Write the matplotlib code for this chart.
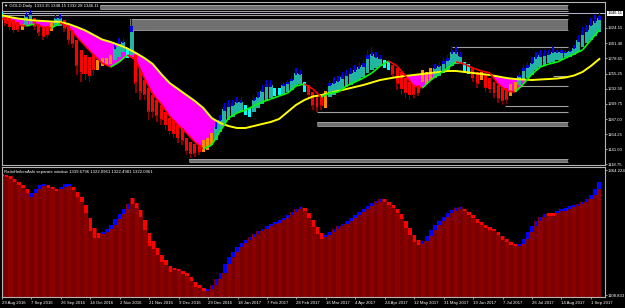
import numpy as np
import matplotlib
matplotlib.use("Agg")
import matplotlib.pyplot as plt
from matplotlib.collections import LineCollection

plt.rcParams["font.family"] = ["Liberation Sans", "DejaVu Sans"]

# candles, one entry for every two daily bars (price high / low of the pair)
cndl_hi = [
    1348, 1342, 1341, 1336, 1333, 1330, 1348, 1351, 1339, 1330,
    1326, 1327, 1332, 1344, 1345, 1336, 1329, 1321, 1306, 1291,
    1284, 1280, 1284, 1276, 1279, 1279, 1284, 1303, 1309, 1309,
    1294, 1338, 1284, 1261, 1246, 1234, 1223, 1216, 1208, 1198,
    1189, 1186, 1178, 1174, 1158, 1152, 1149, 1148, 1156, 1158,
    1166, 1183, 1193, 1211, 1216, 1216, 1220, 1220, 1208, 1204,
    1223, 1228, 1238, 1246, 1246, 1234, 1234, 1243, 1246, 1252,
    1264, 1261, 1243, 1238, 1228, 1223, 1223, 1230, 1246, 1250,
    1252, 1258, 1261, 1264, 1268, 1273, 1276, 1291, 1295, 1288,
    1283, 1276, 1273, 1268, 1264, 1258, 1249, 1243, 1238, 1238,
    1261, 1258, 1264, 1270, 1273, 1279, 1283, 1297, 1295, 1288,
    1273, 1270, 1264, 1258, 1258, 1253, 1249, 1243, 1238, 1234,
    1234, 1240, 1243, 1258, 1268, 1273, 1280, 1288, 1291, 1291,
    1291, 1295, 1294, 1294, 1291, 1294, 1298, 1313, 1325, 1329,
    1339, 1344, 1348]
cndl_lo = [
    1339, 1327, 1321, 1317, 1318, 1321, 1327, 1330, 1321, 1312,
    1306, 1309, 1320, 1327, 1327, 1318, 1298, 1294, 1253, 1243,
    1246, 1243, 1253, 1261, 1267, 1268, 1270, 1276, 1280, 1288,
    1279, 1284, 1226, 1215, 1216, 1186, 1189, 1183, 1178, 1171,
    1163, 1158, 1151, 1148, 1133, 1128, 1130, 1133, 1137, 1140,
    1148, 1155, 1168, 1181, 1186, 1190, 1196, 1198, 1193, 1190,
    1198, 1204, 1210, 1216, 1219, 1222, 1223, 1225, 1228, 1231,
    1237, 1240, 1228, 1219, 1200, 1198, 1201, 1204, 1220, 1223,
    1228, 1231, 1235, 1238, 1243, 1246, 1250, 1256, 1261, 1264,
    1267, 1264, 1261, 1249, 1231, 1223, 1219, 1216, 1219, 1222,
    1243, 1240, 1246, 1249, 1252, 1256, 1261, 1267, 1270, 1270,
    1258, 1255, 1243, 1234, 1246, 1228, 1226, 1219, 1211, 1208,
    1210, 1222, 1228, 1238, 1246, 1249, 1253, 1261, 1265, 1268,
    1271, 1273, 1276, 1276, 1279, 1280, 1283, 1288, 1295, 1302,
    1306, 1312, 1318]
# b = bull (teal/blue), c = cyan, r = bear (red), o = orange
cndl_kind = ("c" "rrrr" "o" "bb" "rrrr" "o" "bb" "rrrrrrrr" "oooo" "bbb" "c" "b"
             "rrrrrrrrrrrrrrrr" "ooo" "bbbbbbb" "cc" "bbbbb" "cc" "bbbbb" "c"
             "rrrr" "o" "bbbbbbbbbbbbb" "cc" "rrrrrrr" "ooo" "bbbbbbb" "cc" "rr"
             "o" "rrrrrr" "oo" "bbbbbbbbbbbbbbbbbbbb")

# moving averages, one entry for every four daily bars
ma_slow = [
    1343.7, 1340.7, 1338.4, 1336.9, 1335.4, 1334.7, 1333.9, 1333.2, 1330.2, 1325.6,
    1320.4, 1313.6, 1306.8, 1303.1, 1298.5, 1293.3, 1286.5, 1279.0, 1269.9, 1254.9,
    1241.3, 1232.3, 1223.2, 1214.2, 1203.7, 1188.6, 1181.1, 1176.5, 1173.5, 1173.5,
    1176.5, 1179.6, 1182.6, 1187.1, 1197.6, 1208.2, 1215.7, 1221.0, 1223.2, 1226.2,
    1229.3, 1232.3, 1235.3, 1238.3, 1242.1, 1245.8, 1248.1, 1250.3, 1251.9, 1253.4,
    1254.9, 1256.4, 1257.9, 1259.4, 1259.4, 1257.9, 1256.4, 1254.9, 1253.4, 1251.1,
    1248.8, 1247.3, 1246.6, 1245.8, 1246.6, 1247.3, 1248.1, 1249.6, 1252.6, 1257.9,
    1266.9, 1277.5]
ma_fast = [
    1339.2, 1334.7, 1328.7, 1327.2, 1330.2, 1325.6, 1324.1, 1331.7, 1325.6, 1310.6,
    1297.0, 1283.5, 1271.4, 1265.4, 1272.9, 1283.5, 1275.9, 1248.8, 1224.7, 1209.7,
    1191.6, 1178.0, 1166.0, 1152.4, 1141.9, 1147.9, 1169.0, 1188.6, 1196.1, 1200.6,
    1206.7, 1212.7, 1217.2, 1221.7, 1226.2, 1236.8, 1239.8, 1232.3, 1220.2, 1226.2,
    1227.7, 1236.8, 1242.8, 1248.8, 1256.4, 1266.9, 1274.4, 1266.9, 1251.9, 1236.8,
    1233.8, 1245.8, 1254.9, 1263.9, 1272.9, 1269.9, 1263.9, 1259.4, 1256.4, 1239.8,
    1229.3, 1227.7, 1239.8, 1254.9, 1265.4, 1269.9, 1272.9, 1279.0, 1285.0, 1291.0,
    1306.1, 1321.1]

# RatioHeikenAshi separate window, one entry for every two daily bars
rha_top = [
    1356.0, 1354.0, 1351.9, 1345.8, 1339.7, 1333.5, 1325.4, 1317.2, 1325.4, 1333.5,
    1335.6, 1333.5, 1329.5, 1325.4, 1329.5, 1335.6, 1335.6, 1329.5, 1319.2, 1309.0,
    1292.7, 1266.1, 1245.7, 1235.5, 1237.5, 1243.7, 1251.8, 1264.1, 1274.3, 1284.5,
    1294.7, 1307.0, 1296.8, 1282.5, 1262.0, 1235.5, 1219.1, 1204.8, 1190.5, 1180.3,
    1168.0, 1164.0, 1161.9, 1157.8, 1153.7, 1145.6, 1135.4, 1129.2, 1123.1, 1121.1,
    1129.2, 1141.5, 1153.7, 1172.1, 1186.4, 1196.7, 1206.9, 1215.1, 1221.2, 1227.3,
    1233.4, 1239.6, 1243.7, 1249.8, 1253.9, 1258.0, 1262.0, 1266.1, 1272.3, 1278.4,
    1284.5, 1288.6, 1286.5, 1276.3, 1262.0, 1247.7, 1235.5, 1231.4, 1237.5, 1243.7,
    1249.8, 1253.9, 1260.0, 1266.1, 1272.3, 1278.4, 1284.5, 1290.6, 1296.8, 1300.9,
    1304.9, 1304.9, 1298.8, 1292.7, 1284.5, 1274.3, 1260.0, 1245.7, 1231.4, 1221.2,
    1219.1, 1229.4, 1241.6, 1251.8, 1260.0, 1268.2, 1276.3, 1282.5, 1286.5, 1288.6,
    1284.5, 1278.4, 1272.3, 1264.1, 1258.0, 1251.8, 1247.7, 1243.7, 1237.5, 1229.4,
    1223.2, 1217.1, 1213.0, 1213.0, 1223.2, 1237.5, 1249.8, 1260.0, 1268.2, 1274.3,
    1276.3, 1276.3, 1280.4, 1284.5, 1286.5, 1290.6, 1292.7, 1294.7, 1298.8, 1304.9,
    1313.1, 1325.4, 1339.7]
rha_kind = ("r" * 7 + "b" * 4 + "r" * 3 + "b" * 3 + "r" * 7 + "b" * 7 + "r" * 18
            + "b" * 23 + "r" * 5 + "b" * 14 + "r" * 9 + "b" * 10 + "r" * 13
            + "b" * 7 + "r" * 2 + "b" * 11)

# support / resistance rectangles drawn on the chart (price top, bottom, from bar, to bar)
zone_top = [1358.8, 1349.9, 1343.9, 1337.7, 1295.8, 1252.2, 1237.1, 1206.3, 1197.9, 1182.6, 1126.8]
zone_bot = [1352.7, 1349.3, 1343.3, 1321.1, 1295.2, 1251.6, 1236.5, 1205.7, 1197.3, 1176.5, 1122.3]
zone_from = [47, 0, 0, 61, 214, 262, 239, 239, 150, 150, 89]
zone_to = [269, 269, 269, 269, 269, 269, 269, 269, 269, 269, 269]

bid = 1346.11
price_ticks = [1324.15, 1301.40, 1278.65, 1255.25, 1232.50, 1209.75,
               1187.00, 1164.25, 1141.50, 1118.75]
sub_ticks = [1364.224, 1108.833]
date_labels = ["29 Aug 2016", "7 Sep 2016", "26 Sep 2016", "14 Oct 2016", "2 Nov 2016",
               "21 Nov 2016", "9 Dec 2016", "29 Dec 2016", "18 Jan 2017", "7 Feb 2017",
               "28 Feb 2017", "16 Mar 2017", "4 Apr 2017", "24 Apr 2017", "12 May 2017",
               "31 May 2017", "19 Jun 2017", "7 Jul 2017", "26 Jul 2017", "14 Aug 2017",
               "1 Sep 2017"]
title = "\u25bc GOLD,Daily  1333.15 1348.15 1332.28 1346.11"
sub_title = "RatioHeikenAshi separate window 1339.6796 1322.0961 1322.4981 1322.0961"

FS = 3.1
EDGE = "#b4b4b4"

fig = plt.figure(figsize=(6.25, 3.08), dpi=100, facecolor="black")
ax = fig.add_axes([2 / 625, 143 / 308, 603 / 625, 163 / 308], facecolor="black")
sub = fig.add_axes([2 / 625, 11 / 308, 603 / 625, 130 / 308], facecolor="black")

xc = np.arange(len(cndl_hi)) * 2
xm = np.arange(len(ma_slow)) * 4
hi = np.array(cndl_hi, float)
lo = np.array(cndl_lo, float)
kind = np.array(list(cndl_kind))

# zones
for top, bot, x0, x1 in zip(zone_top, zone_bot, zone_from, zone_to):
    if top - bot < 1:
        ax.hlines((top + bot) / 2, x0, x1, color="#a0a0a0", lw=0.8, zorder=1)
    else:
        ax.fill_between([x0, x1], bot, top, color="#707070", lw=0, zorder=1)
        ax.hlines([bot, top], x0, x1, color="#a8a8a8", lw=0.6, zorder=1)

ax.axhline(bid, color="#b8b8d8", lw=0.7, zorder=1)

# magenta band where the fast average is under the slow one
slow = np.array(ma_slow)
fast = np.array(ma_fast)
ax.fill_between(xm, slow, fast, where=fast < slow, interpolate=True,
                color="#ff00ff", lw=0, zorder=2)

# candles
rng = hi - lo
m = kind == "b"
ax.bar(xc[m], rng[m], bottom=lo[m], width=0.6, color="#0000ff", lw=0, zorder=3)
ax.bar(xc[m], (0.7 * rng)[m], bottom=lo[m], width=1.8, color="#24b4a4", lw=0, zorder=3)
ax.bar(xc[m], (0.18 * rng)[m], bottom=(lo + 0.62 * rng)[m], width=1.2, color="#0000e0", lw=0, zorder=3)
m = kind == "c"
ax.bar(xc[m], rng[m], bottom=lo[m], width=1.5, color="#00ffff", lw=0, zorder=3)
m = kind == "o"
ax.bar(xc[m], rng[m], bottom=lo[m], width=1.4, color="#ff8c00", lw=0, zorder=3)
m = kind == "r"
ax.bar(xc[m], (0.75 * rng)[m], bottom=(lo + 0.25 * rng)[m], width=1.4, color="#ff0000", lw=0, zorder=3)
ax.bar(xc[m], (0.3 * rng)[m], bottom=lo[m], width=0.7, color="#8b0000", lw=0, zorder=3)

# averages
ax.plot(xm, slow, color="#ffff00", lw=1.4, zorder=4)
segs = np.stack([np.column_stack([xm[:-1], fast[:-1]]), np.column_stack([xm[1:], fast[1:]])], axis=1)
seg_col = np.where(np.diff(fast) >= 0, "#00ff00", "#ff0000")
ax.add_collection(LineCollection(segs, colors=seg_col, lw=1.2, zorder=5))

# separate window histogram
rtop = np.array(rha_top)
rk = np.array(list(rha_kind))
base = 1104.8
stripe = np.where(np.arange(len(rtop)) % 2 == 0, "#8c0000", "#780000")
sub.bar(xc, rtop - base, bottom=base, width=2.0, color=stripe, lw=0)
cap = np.maximum(np.abs(np.diff(rtop, prepend=rtop[0])), 5)
sub.bar(xc, cap, bottom=rtop - cap, width=1.6,
        color=np.where(rk == "b", "#0000ff", "#ff0000"), lw=0)

# axes styling
for a in (ax, sub):
    a.set_xlim(0.47, 286.7)
    for s in a.spines.values():
        s.set_color(EDGE)
        s.set_linewidth(0.8)
    a.yaxis.tick_right()
    a.tick_params(axis="y", colors=EDGE, labelcolor="white", labelsize=FS,
                  length=1.5, width=0.6, pad=0.6)

ax.set_ylim(1117.8, 1363.3)
ax.set_yticks(price_ticks)
ax.set_yticklabels([f"{v:.2f}" for v in price_ticks])
ax.set_xticks([])

sub.set_ylim(1104.8, 1370.4)
sub.set_yticks(sub_ticks)
sub.set_yticklabels([f"{v:.3f}" for v in sub_ticks])
sub.set_xticks(np.arange(len(date_labels)) * 14)
sub.set_xticklabels(date_labels, ha="left")
sub.tick_params(axis="x", colors=EDGE, labelcolor="white", labelsize=FS,
                length=1.5, width=0.6, pad=1.2)

ax.text(1.004, bid, f"{bid:.2f}", transform=ax.get_yaxis_transform(), fontsize=FS,
        color="black", va="center", ha="left",
        bbox=dict(boxstyle="square,pad=0.2", fc="white", ec="none"))
ax.text(0.003, 0.985, title, transform=ax.transAxes, fontsize=FS, color="white",
        va="top", ha="left", zorder=6)
sub.text(0.003, 0.975, sub_title, transform=sub.transAxes, fontsize=FS, color="white",
         va="top", ha="left", zorder=6)

fig.savefig("out.png", dpi=100, facecolor="black")
